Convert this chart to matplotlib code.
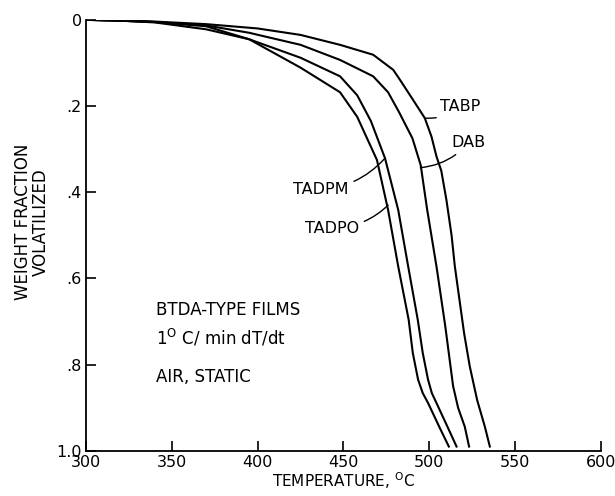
"""Weight fraction volatilized vs temperature for BTDA-type films"""
import matplotlib
matplotlib.use("Agg")
import matplotlib.pyplot as plt

plt.rcParams["font.family"] = ["Liberation Sans Narrow", "DejaVu Sans"]
plt.rcParams["mathtext.fontset"] = "custom"
plt.rcParams["mathtext.rm"] = "Liberation Sans Narrow"

# temperature (C) / weight fraction volatilized
tabp_t = [300, 320, 340, 370, 400, 425, 448, 467.3, 479, 482.9, 490.6, 497.4, 501.3, 504.2, 507,
          510, 513, 514.9, 520.3, 523.6, 527.9, 532.4, 535.3]
tabp_w = [0, 0.001, 0.004, 0.010, 0.020, 0.035, 0.058, 0.081, 0.116, 0.139, 0.186, 0.228, 0.271, 0.317, 0.35,
          0.418, 0.5, 0.572, 0.727, 0.804, 0.882, 0.944, 0.99]

dab_t = [300, 320, 340, 370, 395, 425, 448, 467.3, 476, 482.5, 490.2, 495, 498.8, 504.2, 509.3, 513.9, 516.8,
         520.7, 523.2]
dab_w = [0, 0.002, 0.005, 0.013, 0.030, 0.058, 0.093, 0.131, 0.168, 0.215, 0.275, 0.337, 0.441, 0.572, 0.71, 0.85,
         0.9, 0.944, 0.99]

tadpm_t = [300, 320, 340, 370, 395, 425, 448, 458, 466, 474.2, 481.9, 487.7, 493.3, 496.2, 499.3, 501.5, 504.2,
           510.6, 515.9]
tadpm_w = [0, 0.002, 0.006, 0.022, 0.045, 0.088, 0.131, 0.175, 0.235, 0.321, 0.441, 0.572, 0.696, 0.773, 0.835,
           0.866, 0.889, 0.944, 0.99]

tadpo_t = [300, 320, 340, 370, 395, 425, 448, 458, 469.5, 476, 481.9, 488.0, 490.4, 493.5, 496.2, 499.3, 505.8,
           511.4]
tadpo_w = [0, 0.002, 0.005, 0.015, 0.045, 0.111, 0.168, 0.225, 0.325, 0.441, 0.572, 0.696, 0.773, 0.835, 0.866,
           0.889, 0.944, 0.99]

x_ticks = [300, 350, 400, 450, 500, 550, 600]
y_ticks = [0, 0.2, 0.4, 0.6, 0.8, 1.0]
y_tick_labels = ["0", ".2", ".4", ".6", ".8", "1.0"]


def main():
    fig = plt.figure(figsize=(6.15, 4.96), dpi=100)
    ax = fig.add_axes([0.140, 0.091, 0.837, 0.869])

    for t, w in [(tabp_t, tabp_w), (dab_t, dab_w), (tadpm_t, tadpm_w), (tadpo_t, tadpo_w)]:
        ax.plot(t, w, color="black", lw=1.5, solid_joinstyle="round")

    ax.set_xlim(300, 600)
    ax.set_ylim(1.0, 0)
    ax.set_xticks(x_ticks)
    ax.set_yticks(y_ticks)
    ax.set_yticklabels(y_tick_labels)
    ax.tick_params(direction="in", length=7, width=1.2, labelsize=11.5, pad=3)
    for side in ["top", "right"]:
        ax.spines[side].set_visible(False)
    for side in ["left", "bottom"]:
        ax.spines[side].set_linewidth(1.3)

    line = dict(arrowstyle="-", color="black", lw=1.0, shrinkA=2, shrinkB=0)
    ax.annotate("TABP", xy=(497.4, 0.228), xytext=(506, 0.202), fontsize=11.5,
                va="center", ha="left",
                arrowprops=dict(line, connectionstyle="arc3,rad=-0.2"))
    ax.annotate("DAB", xy=(494.8, 0.343), xytext=(513, 0.285), fontsize=11.5,
                va="center", ha="left",
                arrowprops=dict(line, connectionstyle="arc3,rad=-0.2"))
    ax.annotate("TADPM", xy=(474.2, 0.321), xytext=(453, 0.394), fontsize=11.5,
                va="center", ha="right",
                arrowprops=dict(line, connectionstyle="arc3,rad=0.2"))
    ax.annotate("TADPO", xy=(476, 0.43), xytext=(459, 0.483), fontsize=11.5,
                va="center", ha="right",
                arrowprops=dict(line, connectionstyle="arc3,rad=0.2"))

    ax.text(341, 0.673, "BTDA-TYPE FILMS", fontsize=12, va="center")
    ax.text(341, 0.737, r"1$^{\mathrm{O}}$ C/ min dT/dt", fontsize=12, va="center")
    ax.text(341, 0.828, "AIR, STATIC", fontsize=12, va="center")

    ax.text(-0.106, 0.531, "WEIGHT FRACTION\nVOLATILIZED", transform=ax.transAxes,
            rotation=90, ha="center", va="center", fontsize=12, linespacing=1.0)
    ax.set_xlabel(r"TEMPERATURE, $^{\mathrm{O}}$C", fontsize=11, labelpad=0)

    fig.savefig("out.png", dpi=100)


if __name__ == "__main__":
    main()
